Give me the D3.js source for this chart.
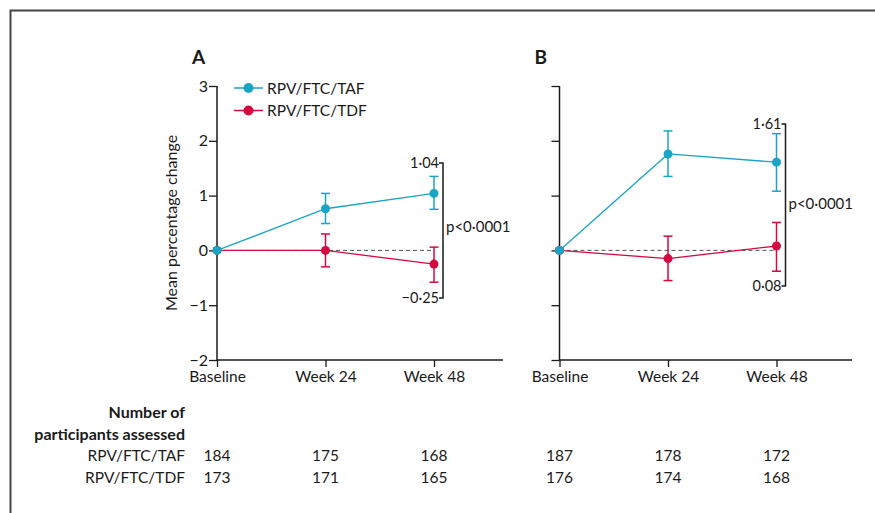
<!DOCTYPE html>
<html><head><meta charset="utf-8">
<script src="https://cdn.jsdelivr.net/npm/d3@7"></script>
<style>
body{margin:0;background:#fff;}
svg{font-family:Lato, "Open Sans", sans-serif;}
</style></head>
<body><svg id="c" width="875" height="513"></svg>
<script>
const timepoints = ["Baseline","Week 24","Week 48"];
const seriesNames = ["RPV/FTC/TAF","RPV/FTC/TDF"];
const yTicks = [-2,-1,0,1,2,3];
// Panel A
const A_taf = [0, 0.76, 1.04];
const A_taf_lo = [0, 0.49, 0.75];
const A_taf_hi = [0, 1.04, 1.35];
const A_tdf = [0, 0.00, -0.25];
const A_tdf_lo = [0, -0.30, -0.58];
const A_tdf_hi = [0, 0.30, 0.06];
// Panel B
const B_taf = [0, 1.76, 1.61];
const B_taf_lo = [0, 1.35, 1.08];
const B_taf_hi = [0, 2.18, 2.13];
const B_tdf = [0, -0.15, 0.08];
const B_tdf_lo = [0, -0.55, -0.38];
const B_tdf_hi = [0, 0.26, 0.51];
const A_n_taf = [184,175,168];
const A_n_tdf = [173,171,165];
const B_n_taf = [187,178,172];
const B_n_tdf = [176,174,168];
const A_bracket = {top:"1·04", bottom:"−0·25", p:"p<0·0001"};
const B_bracket = {top:"1·61", bottom:"0·08", p:"p<0·0001"};

const colTAF = "#1aa5c6", colTDF = "#d5093f", ink = "#1a1a1a";
const svg = d3.select("#c");

// frame
svg.append("path").attr("d","M10.5,513 L10.5,10.5 L875,10.5").attr("fill","none").attr("stroke","#444").attr("stroke-width",2);

const y = d3.scaleLinear().domain([-2,3]).range([360,86]);

function panel(x0, xEnd, label, showLabels, taf, tafLo, tafHi, tdf, tdfLo, tdfHi, br, nTaf, nTdf){
  const x = d3.scalePoint().domain(timepoints).range([x0, x0+217]);
  const g = svg.append("g");
  // y axis
  const ya = g.append("g").attr("transform",`translate(${x0},0)`)
    .call(d3.axisLeft(y).tickValues(yTicks).tickSize(8).tickFormat(showLabels? (d=> d<0? "−"+Math.abs(d): d) : ""));
  ya.select(".domain").remove();
  ya.append("line").attr("x1",0).attr("x2",0).attr("y1",y(3)).attr("y2",y(-2)).attr("stroke",ink).attr("stroke-width",1.5);
  ya.selectAll(".tick line").attr("stroke",ink).attr("stroke-width",1.3);
  ya.selectAll("text").attr("fill",ink).style("font-size","16px").attr("x",-9).attr("font-family","Lato, sans-serif");
  // x axis
  const xa = g.append("g").attr("transform",`translate(0,${y(-2)})`)
    .call(d3.axisBottom(x).tickSize(7).tickPadding(4));
  xa.select(".domain").remove();
  xa.append("line").attr("x1",x0).attr("x2",xEnd).attr("y1",0).attr("y2",0).attr("stroke",ink).attr("stroke-width",1.5);
  xa.selectAll(".tick line").attr("stroke",ink).attr("stroke-width",1.3);
  xa.selectAll("text").attr("fill",ink).style("font-size","15.5px").attr("font-family","Lato, sans-serif");
  // dashed zero
  g.append("line").attr("x1",x0).attr("x2",x(timepoints[2])).attr("y1",y(0)).attr("y2",y(0))
    .attr("stroke","#555").attr("stroke-dasharray","4,3").attr("stroke-width",1);
  // series
  const sets = [[tdf,tdfLo,tdfHi,colTDF],[taf,tafLo,tafHi,colTAF]];
  sets.forEach(([v,lo,hi,c])=>{
    const line = d3.line().x((d,i)=>x(timepoints[i])).y(d=>y(d));
    g.append("path").attr("d",line(v)).attr("fill","none").attr("stroke",c).attr("stroke-width",1.3);
    v.forEach((d,i)=>{
      if(i>0){
        const cx = x(timepoints[i]);
        g.append("line").attr("x1",cx).attr("x2",cx).attr("y1",y(lo[i])).attr("y2",y(hi[i])).attr("stroke",c).attr("stroke-width",1.5);
        [lo[i],hi[i]].forEach(e=>g.append("line").attr("x1",cx-4.5).attr("x2",cx+4.5).attr("y1",y(e)).attr("y2",y(e)).attr("stroke",c).attr("stroke-width",1.5));
      }
    });
  });
  sets.forEach(([v,lo,hi,c])=>{
    g.selectAll(null).data(v).enter().append("circle")
      .attr("cx",(d,i)=>x(timepoints[i])).attr("cy",d=>y(d)).attr("r",4.5).attr("fill",c);
  });
  // panel label
  g.append("text").attr("x",x0-25).attr("y",64).text(label).attr("font-weight","bold").style("font-size","19px").attr("fill",ink);
  // bracket
  const bx = x(timepoints[2]) + br.dx;
  g.append("path").attr("d",`M${bx-4},${br.y1} H${bx} V${br.y2} H${bx-4}`).attr("fill","none").attr("stroke",ink).attr("stroke-width",1.5);
  g.append("text").attr("x",bx-4).attr("y",br.y1+5).attr("text-anchor","end").text(br.top).style("font-size","14.5px").attr("fill",ink);
  g.append("text").attr("x",bx-4).attr("y",br.y2+5).attr("text-anchor","end").text(br.bottom).style("font-size","14.5px").attr("fill",ink);
  g.append("text").attr("x",bx+3).attr("y",br.py).text(br.p).style("font-size","15px").attr("fill",ink);
  // counts
  [nTaf,nTdf].forEach((arr,r)=>{
    g.selectAll(null).data(arr).enter().append("text")
      .attr("x",(d,i)=>x(timepoints[i])).attr("y",461+r*22).attr("text-anchor","middle")
      .text(d=>d).style("font-size","15.5px").attr("fill",ink);
  });
}
panel(217, 503, "A", true, A_taf, A_taf_lo, A_taf_hi, A_tdf, A_tdf_lo, A_tdf_hi,
  Object.assign({dx:9, y1:163, y2:298, py:232}, A_bracket), A_n_taf, A_n_tdf);
panel(559.5, 852, "B", false, B_taf, B_taf_lo, B_taf_hi, B_tdf, B_tdf_lo, B_tdf_hi,
  Object.assign({dx:9, y1:124, y2:286, py:209}, B_bracket), B_n_taf, B_n_tdf);

// y label
svg.append("text").attr("transform","translate(177,223) rotate(-90)").attr("text-anchor","middle")
  .text("Mean percentage change").style("font-size","16px").attr("fill",ink);

// legend
const leg = svg.append("g");
seriesNames.forEach((s,i)=>{
  const c = i===0?colTAF:colTDF, ly = 88+i*22.5;
  leg.append("line").attr("x1",234).attr("x2",263).attr("y1",ly).attr("y2",ly).attr("stroke",c).attr("stroke-width",1.5);
  leg.append("circle").attr("cx",248.5).attr("cy",ly).attr("r",5).attr("fill",c);
  leg.append("text").attr("x",267).attr("y",ly+5.5).text(s).style("font-size","15.5px").attr("fill",ink);
});

// table labels
const tl = svg.append("g").attr("text-anchor","end").attr("fill",ink);
tl.append("text").attr("x",185).attr("y",418).text("Number of").attr("font-weight","bold").style("font-size","16px");
tl.append("text").attr("x",185).attr("y",440).text("participants assessed").attr("font-weight","bold").style("font-size","16px");
seriesNames.forEach((s,i)=>tl.append("text").attr("x",185).attr("y",461+i*22).text(s).style("font-size","15.5px"));
</script></body></html>
